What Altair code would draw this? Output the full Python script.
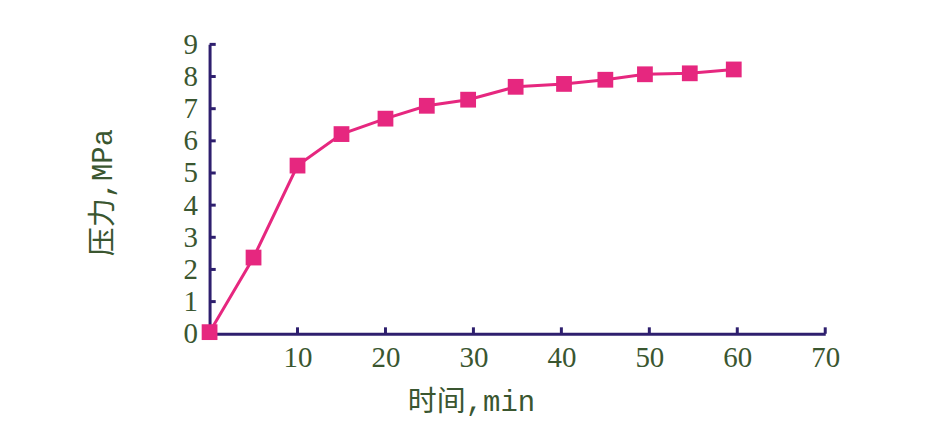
import altair as alt
import pandas as pd

time_min = [0, 5, 10, 15, 20, 24.7, 29.4, 34.8, 40.3, 45, 49.5, 54.6, 59.6]
pressure = [0.05, 2.37, 5.23, 6.21, 6.69, 7.09, 7.28, 7.68, 7.77, 7.9, 8.07, 8.1, 8.22]
x_ticks = [10, 20, 30, 40, 50, 60, 70]
y_ticks = [0, 1, 2, 3, 4, 5, 6, 7, 8, 9]

LINE = "#e6277f"
AXIS = "#2e1f6e"
TEXT = "#3a5630"
FONT = "Liberation Serif, Noto Sans CJK SC"
TFONT = "Liberation Mono, Noto Sans CJK SC"

df = pd.DataFrame({"t": time_min, "p": pressure})
xt = pd.DataFrame({"x": x_ticks, "y0": [0] * len(x_ticks), "y1": [0.2] * len(x_ticks)})
yt = pd.DataFrame({"y": y_ticks, "x0": [0] * len(y_ticks), "x1": [0.7] * len(y_ticks)})

xs = alt.Scale(domain=[0, 70], nice=False, zero=True)
ys = alt.Scale(domain=[0, 9], nice=False, zero=True)

xaxis = alt.Axis(values=x_ticks, title="时间,min", ticks=False, grid=False,
                 domainColor=AXIS, domainWidth=3, labelColor=TEXT, labelFont=FONT,
                 labelFontSize=29, labelPadding=10, labelOverlap=False,
                 titleColor=TEXT, titleFont=TFONT,
                 titleFontSize=29, titleFontWeight="normal", titleX=262, titleY=68,
                 titleBaseline="middle", labelFlush=False)
yaxis = alt.Axis(values=y_ticks, title="压力,MPa", ticks=False, grid=False,
                 domainColor=AXIS, domainWidth=3, labelColor=TEXT, labelFont=FONT,
                 labelFontSize=29, labelPadding=12, labelOverlap=False,
                 titleColor=TEXT, titleFont=TFONT,
                 titleFontSize=29, titleFontWeight="normal", titleX=-107, titleY=148,
                 titleBaseline="middle", titleAlign="center", labelFlush=False)

line = alt.Chart(df).mark_line(color=LINE, strokeWidth=3).encode(
    x=alt.X("t:Q", scale=xs, axis=xaxis, title="时间,min"),
    y=alt.Y("p:Q", scale=ys, axis=yaxis, title="压力,MPa"),
)
pts = alt.Chart(df).mark_square(color=LINE, size=250, opacity=1).encode(
    x=alt.X("t:Q", scale=xs, axis=xaxis, title="时间,min"),
    y=alt.Y("p:Q", scale=ys, axis=yaxis, title="压力,MPa"),
)
xtick = alt.Chart(xt).mark_rule(color=AXIS, strokeWidth=3).encode(
    x=alt.X("x:Q", scale=xs, axis=xaxis, title="时间,min"),
    y=alt.Y("y0:Q", scale=ys, axis=yaxis, title="压力,MPa"),
    y2="y1:Q",
)
ytick = alt.Chart(yt).mark_rule(color=AXIS, strokeWidth=3).encode(
    y=alt.Y("y:Q", scale=ys, axis=yaxis, title="压力,MPa"),
    x=alt.X("x0:Q", scale=xs, axis=xaxis, title="时间,min"),
    x2="x1:Q",
)

chart = alt.layer(line, xtick, ytick, pts).properties(
    width=617, height=290,
    autosize=alt.AutoSizeParams(type="none"),
    padding={"left": 202, "top": 36, "right": 110, "bottom": 95},
).configure(background="white").configure_view(
    strokeWidth=0, stroke="transparent"
).configure_axis(labelOverlap=False)

chart.save("out.html", embed_options={"renderer": "svg", "actions": False})
